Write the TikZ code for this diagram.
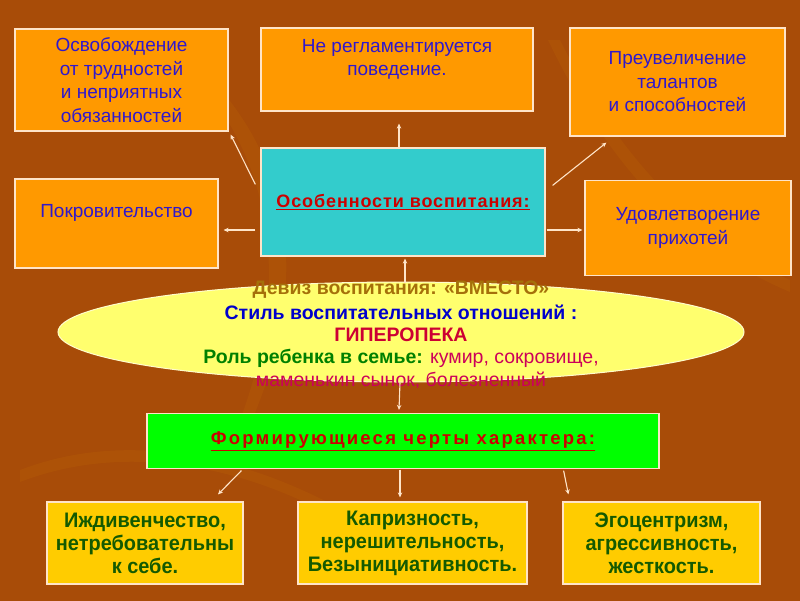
\documentclass[tikz,border=0pt]{standalone}
\usepackage{fontspec}
\setmainfont{Liberation Sans}
\newfontfamily\narrowfont[FakeStretch=0.95]{Liberation Sans}
\usetikzlibrary{arrows.meta,shapes.geometric,calc}
\definecolor{bgtop}{RGB}{88,40,6}
\definecolor{bgtopb}{RGB}{140,64,8}
\definecolor{bgmid}{RGB}{168,76,8}
\definecolor{bgbotb}{RGB}{120,50,6}
\definecolor{bgbot}{RGB}{72,28,4}
\definecolor{orangebox}{RGB}{255,153,0}
\definecolor{edgecol}{RGB}{255,228,200}
\definecolor{bluetxt}{RGB}{48,24,204}
\definecolor{cyanbox}{RGB}{51,204,204}
\definecolor{redtxt}{RGB}{204,0,0}
\definecolor{ellfill}{RGB}{255,255,110}
\definecolor{goldtxt}{RGB}{165,112,10}
\definecolor{blue2}{RGB}{0,0,204}
\definecolor{crim}{RGB}{204,0,51}
\definecolor{crim2}{RGB}{204,0,90}
\definecolor{green2}{RGB}{0,128,0}
\definecolor{greenbox}{RGB}{0,255,0}
\definecolor{goldbox}{RGB}{255,204,0}
\definecolor{dkgreen}{RGB}{20,90,0}
\pgfdeclareverticalshading{bgshade}{100bp}{color(0bp)=(bgbot); color(6bp)=(bgbotb); color(14bp)=(bgmid); color(80bp)=(bgmid); color(92bp)=(bgtopb); color(100bp)=(bgtop)}
\begin{document}
\begin{tikzpicture}[x=1pt,y=-1pt,
  obox/.style={draw=edgecol, line width=1.2pt, fill=orangebox, inner sep=0pt, align=center, text=bluetxt, font=\fontsize{19}{23.5}\selectfont},
  btext/.style={inner sep=0pt, align=center, text=bluetxt, font=\fontsize{19}{23.5}\selectfont},
  cbox/.style={draw=edgecol, line width=1.2pt, fill=cyanbox, inner sep=0pt, align=center},
  gbox/.style={draw=edgecol, line width=1.2pt, fill=greenbox, inner sep=0pt, align=center},
  ybox/.style={draw=edgecol, line width=1.2pt, fill=goldbox, inner sep=0pt, align=center, text=dkgreen, font=\narrowfont\bfseries\fontsize{21}{23}\selectfont},
  arr/.style={draw=edgecol, line width=1.1pt, -{Stealth[length=5pt,width=4.5pt]}},
  etext/.style={inner sep=0pt, font=\bfseries\fontsize{19.5}{23}\selectfont}
]
\useasboundingbox (0,0) rectangle (800,600);
\shade[shading=bgshade] (0,0) rectangle (800,600);
% faint texture
\begin{scope}[opacity=0.06]
\fill[orange!60!yellow] (180,60) .. controls (260,140) and (300,260) .. (240,420) -- (252,420) .. controls (320,260) and (280,140) .. (192,60) -- cycle;
\fill[orange!60!yellow] (560,40) .. controls (620,160) and (700,240) .. (790,280) -- (790,292) .. controls (690,250) and (610,170) .. (548,40) -- cycle;
\fill[orange!60!yellow] (20,470) .. controls (150,420) and (300,470) .. (420,560) -- (408,566) .. controls (300,480) and (150,432) .. (20,482) -- cycle;
\end{scope}

% top boxes
\node[obox, minimum width=213, minimum height=102] (b1) at (121.5,80) {Освобождение\\от трудностей\\и неприятных\\обязанностей};
\node[obox, minimum width=272, minimum height=83] (b2) at (397,69.5) {};
\node[btext, anchor=north] (t2) at (397,39) {Не регламентируется\\поведение.};
\node[obox, minimum width=215, minimum height=108] (b3) at (677.5,82) {Преувеличение\\талантов\\и способностей};
\node[obox, minimum width=203, minimum height=89] (b4) at (116.5,223.5) {};
\node[btext] (t4) at (116.5,213) {Покровительство};
\node[obox, minimum width=206, minimum height=95] (b5) at (688,228) {Удовлетворение\\прихотей};

% center
\node[cbox, minimum width=284, minimum height=108] (cen) at (403,202)
  {\textcolor{redtxt}{\bfseries\fontsize{18}{22}\selectfont\addfontfeature{LetterSpace=5}\underline{Особенности воспитания:}}};

% ellipse
\node[ellipse, draw=white!80!yellow, line width=1pt, fill=ellfill, minimum width=686, minimum height=100, inner sep=0pt] (ell) at (401,332) {};
\node[etext, text=goldtxt] (e1) at (401,290) {Девиз воспитания: «ВМЕСТО»};
\node[etext, text=blue2] (e2) at (401,312) {Стиль воспитательных отношений :};
\node[etext, text=crim] (e3) at (401,335) {ГИПЕРОПЕКА};
\node[etext] (e4) at (401,358) {\textcolor{green2}{Роль ребенка в семье:} \textcolor{crim2}{\mdseries кумир, сокровище,}};
\begin{scope}
\clip (0,0) rectangle (800,387);
\node[etext, text=crim2, font=\fontsize{19.5}{23}\selectfont] (e5) at (401,381) {маменькин сынок, болезненный};
\end{scope}

% green
\node[gbox, minimum width=512, minimum height=55] (gr) at (403,441)
  {\textcolor{redtxt}{\bfseries\fontsize{18.5}{22}\selectfont\addfontfeature{LetterSpace=12}\underline{Формирующиеся черты характера:}}};

% bottom boxes
\node[ybox, minimum width=196, minimum height=82] (bA) at (145,543) {Иждивенчество,\\нетребовательны\\к себе.};
\node[ybox, minimum width=229, minimum height=82] (bB) at (412.5,543) {Капризность,\\ нерешительность,\\Безынициативность.};
\node[ybox, minimum width=197, minimum height=82] (bC) at (661.5,543) {Эгоцентризм,\\агрессивность,\\жесткость.};

% arrows
\draw[arr] ([shift={(-5,37)}]cen.north west) -- ([shift={(2,3)}]b1.south east);
\draw[arr] ([shift={(-4,0)}]cen.north) -- ([shift={(2,12)}]b2.south);
\draw[arr] ([shift={(7,38)}]cen.north east) -- ([shift={(37,6)}]b3.south west);
\draw[arr] ([shift={(-5,28)}]cen.west) -- ([shift={(5,6.5)}]b4.east);
\draw[arr] ([shift={(1,28)}]cen.east) -- ([shift={(-2,2)}]b5.west);
\draw[arr] ([shift={(4,1)}]ell.north) -- ([shift={(2,2)}]cen.south);
\draw[arr] ([shift={(-1,0)}]ell.south) -- ([shift={(-4,-3)}]gr.north);
\draw[arr] ([shift={(95,1.5)}]gr.south west) -- ([shift={(73,-7)}]bA.north);
\draw[arr] ([shift={(-3,0.5)}]gr.south) -- ([shift={(-12.5,-4)}]bB.north);
\draw[arr] ([shift={(-96,1.5)}]gr.south east) -- ([shift={(6,-7)}]bC.north west);
\end{tikzpicture}
\end{document}
